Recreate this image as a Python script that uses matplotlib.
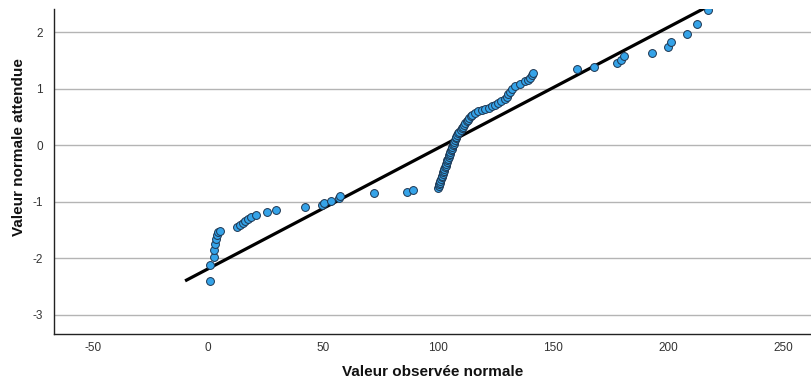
import matplotlib
matplotlib.use("Agg")
import matplotlib.pyplot as plt

# Observed values (x) and expected normal values (y)
obs_x = [
    0.9, 0.9, 2.5, 2.6, 3.0, 3.4, 3.9, 4.5, 5.3,
    12.6, 14.0, 15.0, 16.2, 17.5, 18.8, 21.0, 25.7, 29.5,
    42.0, 49.5, 50.5, 53.5, 57.0, 57.5, 72.0, 86.5, 89.0,
    100.0, 100.3, 100.5, 100.8, 101.0, 101.2, 101.5, 101.7, 102.0, 102.2,
    102.5, 102.8, 103.0, 103.3, 103.5, 103.8, 104.0, 104.4, 104.6, 104.9,
    105.1, 105.4, 105.6, 105.9, 106.2, 106.6, 106.9, 107.1, 107.4, 107.7,
    108.0, 108.4, 108.7, 109.2, 109.8, 110.4, 110.8, 111.2, 111.7, 112.4,
    113.0, 113.6, 114.3, 114.8, 116.0,
    117.5, 119.0, 120.4, 122.0, 123.3, 124.7, 126.0, 127.5, 129.0, 130.0,
    130.6, 131.3, 132.0, 133.5, 135.7, 137.8, 139.0, 140.0, 141.0, 141.5,
    160.4, 168.0, 178.0, 179.5, 181.0, 193.0, 200.0, 201.3, 208.3, 212.6, 217.4,
]
exp_y = [
    -2.40, -2.12, -1.98, -1.86, -1.75, -1.66, -1.59, -1.54, -1.51,
    -1.45, -1.41, -1.38, -1.34, -1.30, -1.27, -1.23, -1.18, -1.14,
    -1.09, -1.05, -1.02, -0.99, -0.93, -0.90, -0.85, -0.83, -0.80,
    -0.75, -0.72, -0.69, -0.66, -0.63, -0.60, -0.57, -0.54, -0.51, -0.48,
    -0.45, -0.42, -0.39, -0.36, -0.33, -0.30, -0.27, -0.24, -0.21, -0.18,
    -0.15, -0.12, -0.09, -0.06, -0.03, 0.00, 0.03, 0.06, 0.09, 0.12,
    0.15, 0.18, 0.21, 0.24, 0.27, 0.30, 0.33, 0.36, 0.39, 0.42,
    0.45, 0.48, 0.51, 0.54, 0.57,
    0.60, 0.62, 0.64, 0.66, 0.69, 0.72, 0.75, 0.78, 0.82, 0.86,
    0.91, 0.95, 1.00, 1.04, 1.08, 1.13, 1.16, 1.19, 1.24, 1.28,
    1.34, 1.38, 1.45, 1.50, 1.57, 1.64, 1.73, 1.83, 1.96, 2.14, 2.40,
]

# Reference normal line endpoints
line_x = [-10, 218]
line_y = [-2.40, 2.47]

x_ticks = [-50, 0, 50, 100, 150, 200, 250]
y_ticks = [-3, -2, -1, 0, 1, 2]

plt.rcParams['font.family'] = ['Liberation Sans', 'DejaVu Sans']
plt.rcParams['axes.unicode_minus'] = False

fig = plt.figure(figsize=(8.12, 3.85), dpi=100)
ax = fig.add_axes([54/812, 51/385, 1 - 54/812, (334 - 9)/385])

ax.set_xlim(-67, 262.6)
ax.set_ylim(-3.34, 2.41)

ax.set_yticks(y_ticks)
ax.set_xticks(x_ticks)
ax.yaxis.grid(True, color='#b4b4b4', linewidth=1.0)
ax.set_axisbelow(True)

ax.plot(line_x, line_y, color='black', linewidth=2.3, solid_capstyle='butt', zorder=2)
ax.scatter(obs_x, exp_y, s=32, facecolor='#35a3e8', edgecolor='#1d3550',
           linewidth=0.7, zorder=3, clip_on=True)

for s in ['top', 'right']:
    ax.spines[s].set_visible(False)
ax.spines['left'].set_color('#222222')
ax.spines['bottom'].set_color('#222222')
ax.spines['left'].set_linewidth(1.0)
ax.spines['bottom'].set_linewidth(1.0)

ax.tick_params(axis='both', length=0, labelsize=8.5, labelcolor='#333333')
ax.tick_params(axis='y', pad=8)
ax.tick_params(axis='x', pad=6)

fig.text(433/812, 1 - 372/385, 'Valeur observée normale', ha='center', va='center',
         fontsize=11, fontweight='bold', color='#111111')
fig.text(19/812, 1 - 147/385, 'Valeur normale attendue', ha='center', va='center',
         rotation=90, fontsize=11, fontweight='bold', color='#111111')

fig.savefig('out.png', dpi=100)
